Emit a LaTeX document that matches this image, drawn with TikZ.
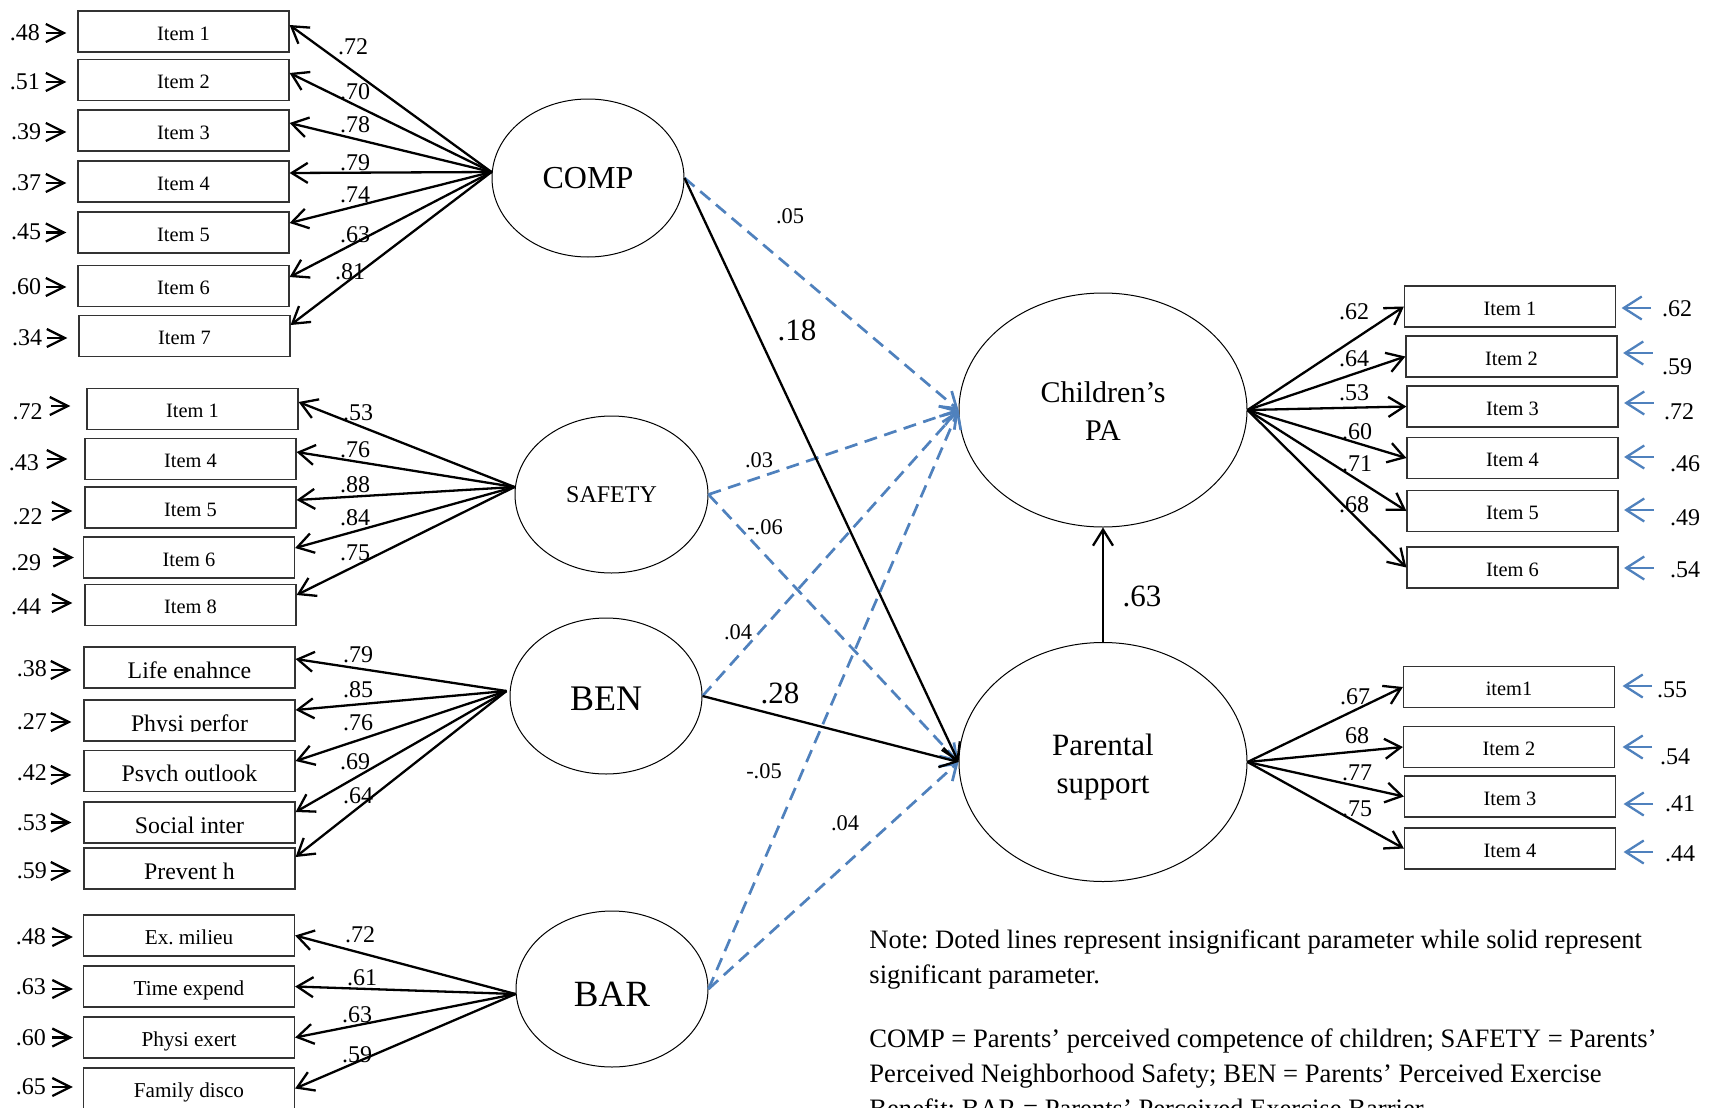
\documentclass[tikz,border=0pt]{standalone}
\usepackage{fontspec}
\setmainfont{Liberation Serif}
\usetikzlibrary{arrows.meta,calc,shapes.geometric}
\definecolor{nsblue}{RGB}{79,129,189}
\newcommand{\fsz}[1]{\fontsize{#1}{#1}\selectfont}
\frenchspacing

\begin{document}
\begin{tikzpicture}[x=0.5pt,y=-0.5pt,
  box/.style={draw=black!80, line width=0.6pt, minimum width=105.5pt, minimum height=20.5pt,
    inner sep=0pt, text height=9.5pt, text depth=1pt, font=\fsz{10.2}},
  barbox/.style={box, font=\fsz{10.6}},
  % text cut off at its baseline, as in the Benefit boxes
  bentext/.style={box, path picture={
      \clip (path picture bounding box.north west) rectangle ([yshift=-5.25pt]path picture bounding box.east);
      \node[anchor=base, inner sep=0pt, font=\fsz{11.9}] at ([yshift=-5.25pt]path picture bounding box.center) {#1};}},
  latent/.style={draw, ellipse, line width=0.5pt, inner sep=0pt},
  num/.style={inner sep=0pt, font=\fsz{12}},
  pathnum/.style={inner sep=0pt, font=\fsz{11.2}},
  bignum/.style={inner sep=0pt, font=\fsz{15.5}},
  load/.style={line width=1.15pt, -{Straight Barb[length=8pt,width=10pt]}},
  sig/.style={line width=1.15pt, -{Straight Barb[length=8pt,width=10pt]}},
  ns/.style={nsblue, line width=1.35pt, dash pattern=on 6.5pt off 3.8pt, -{Straight Barb[length=7.5pt,width=10pt]}},
  errL/.style={line width=1.15pt, -{Straight Barb[length=9pt,width=9pt]}},
  errR/.style={nsblue, line width=1.15pt, -{Straight Barb[length=9pt,width=11.5pt]}},
  note/.style={anchor=base west, inner sep=0pt, font=\fsz{13.3}},
]
\useasboundingbox (0,0) rectangle (1713,1108);
\fill[white] (0,0) rectangle (1713,1108);
\begin{scope}
\clip (0,0) rectangle (1713,1108);

% ---------- indicator boxes, left ----------
\node[box] (c1) at (183.5,31.5) {Item 1};
\node[box] (c2) at (183.5,80) {Item 2};
\node[box] (c3) at (183.5,130.5) {Item 3};
\node[box] (c4) at (183.5,181.5) {Item 4};
\node[box] (c5) at (183.5,232.5) {Item 5};
\node[box] (c6) at (183.5,286) {Item 6};
\node[box] (c7) at (184.5,336) {Item 7};

\node[box] (s1) at (192.5,409) {Item 1};
\node[box] (s4) at (190.5,459) {Item 4};
\node[box] (s5) at (190.5,507.5) {Item 5};
\node[box] (s6) at (189,557.5) {Item 6};
\node[box] (s8) at (190.5,605) {Item 8};

\node[bentext={Life enahnce}] (b1) at (189.5,667.5) {};
\node[bentext={Physi perfor}] (b2) at (189.5,720.5) {};
\node[bentext={Psych outlook}] (b3) at (189.5,771) {};
\node[bentext={Social inter}] (b4) at (189.5,822.5) {};
\node[bentext={Prevent h}] (b5) at (189.5,868.5) {};

\node[barbox] (r1) at (189,935.5) {Ex. milieu};
\node[barbox] (r2) at (189,986.5) {Time expend};
\node[barbox] (r3) at (189,1037.5) {Physi exert};
\node[barbox] (r4) at (189,1088.5) {Family disco};

% ---------- latent variables ----------
\node[latent, minimum width=96pt, minimum height=79pt, font=\fsz{16}] (comp) at (588,178) {COMP};
\node[latent, minimum width=96.5pt, minimum height=78.5pt, font=\fsz{12}] (safety) at (611.5,494.5) {SAFETY};
\node[latent, minimum width=96pt, minimum height=78pt, font=\fsz{18},
      text height=14.9pt, text depth=0pt] (ben) at (606,696) {BEN};
\node[latent, minimum width=96pt, minimum height=78pt, font=\fsz{18.5},
      text height=17.7pt, text depth=0pt] (bar) at (612,989) {BAR};
\node[latent, minimum width=144pt, minimum height=117pt] (pa) at (1103,410) {};
\node[align=center, inner sep=0pt, font=\fontsize{15}{19}\selectfont] (patext) at (1103,411) {Children’s\\PA};
\node[latent, minimum width=144pt, minimum height=119.5pt] (par) at (1103,762) {};
\node[align=center, inner sep=0pt, font=\fontsize{15.5}{19}\selectfont] (partext) at (1103,767.5) {Parental\\support};

% ---------- indicator boxes, right ----------
\node[box] (p1) at (1510,306.5) {Item 1};
\node[box] (p2) at (1511.5,356.5) {Item 2};
\node[box] (p3) at (1512.5,406.5) {Item 3};
\node[box] (p4) at (1512.5,458) {Item 4};
\node[box] (p5) at (1512.5,511) {Item 5};
\node[box] (p6) at (1512.5,567.5) {Item 6};

\node[box] (q1) at (1509,687) {item1};
\node[box] (q2) at (1509,747) {Item 2};
\node[box] (q3) at (1510,796.5) {Item 3};
\node[box] (q4) at (1510,848.5) {Item 4};

% ---------- loadings, left ----------
\foreach \b/\d in {c1/3.25,c2/3.5,c3/3.75,c4/4.25,c5/4.75,c6/4.5,c7/5.5}
  \draw[load] ([yshift=3pt]comp.west) -- ([yshift=\d pt]\b.east);
\foreach \b/\d in {s1/3.5,s4/3.5,s5/3.75,s6/4.75,s8/5}
  \draw[load] ([yshift=3.75pt]safety.west) -- ([yshift=\d pt]\b.east);
\foreach \b/\d in {b1/4.25,b2/5.25,b3/5,b4/5.25,b5/5.75}
  \draw[load] ([xshift=-1.5pt,yshift=2.5pt]ben.west) -- ([yshift=\d pt]\b.east);
\foreach \b in {r1,r2,r3,r4}
  \draw[load] ([yshift=-2.5pt]bar.west) -- (\b.east);

\node[num] (lc1) at (353,47) {.72};
\node[num] (lc2) at (355,92) {.70};
\node[num] (lc3) at (355,125) {.78};
\node[num] (lc4) at (355,163) {.79};
\node[num] (lc5) at (355,195) {.74};
\node[num] (lc6) at (355,235) {.63};
\node[num] (lc7) at (350,272) {.81};

\node[num] (ls1) at (358,413) {.53};
\node[num] (ls4) at (355,450) {.76};
\node[num] (ls5) at (355,485) {.88};
\node[num] (ls6) at (355,518) {.84};
\node[num] (ls8) at (355,553) {.75};

\node[num] (lb1) at (358,655) {.79};
\node[num] (lb2) at (358,690) {.85};
\node[num] (lb3) at (358,723) {.76};
\node[num] (lb4) at (355,762) {.69};
\node[num] (lb5) at (358,796) {.64};

\node[num] (lr1) at (360,935) {.72};
\node[num] (lr2) at (362,978) {.61};
\node[num] (lr3) at (357,1015) {.63};
\node[num] (lr4) at (357,1055) {.59};

% ---------- residuals, left ----------
\foreach \b/\dy in {c1/-0.75,c2/-1,c3/-0.75,c4/-0.75,c5/0,c6/-0.5,c7/-1}
  \draw[errL] ([xshift=-15.5pt,yshift=\dy pt]\b.west) -- ([xshift=-5.5pt,yshift=\dy pt]\b.west);
\draw[errL] ([xshift=-17.5pt,yshift=1.5pt]s1.west) -- ([xshift=-8pt,yshift=1.5pt]s1.west);
\draw[errL] ([xshift=-18.5pt]s4.west) -- ([xshift=-8.5pt]s4.west);
\draw[errL] ([xshift=-16pt,yshift=-1.75pt]s5.west) -- ([xshift=-6pt,yshift=-1.75pt]s5.west);
\draw[errL] ([xshift=-15pt]s6.west) -- ([xshift=-4.5pt]s6.west);
\draw[errL] ([xshift=-16pt,yshift=1pt]s8.west) -- ([xshift=-6pt,yshift=1pt]s8.west);
\foreach \b/\dy in {b1/-1.25,b2/-0.75,b3/-2,b4/0,b5/-1.25}
  \draw[errL] ([xshift=-16pt,yshift=\dy pt]\b.west) -- ([xshift=-6pt,yshift=\dy pt]\b.west);
\foreach \b/\dy in {r1/-0.75,r2/-1.25,r3/0,r4/0.75}
  \draw[errL] ([xshift=-15.5pt,yshift=\dy pt]\b.west) -- ([xshift=-5pt,yshift=\dy pt]\b.west);

\node[num] (ec1) at (25,33) {.48};
\node[num] (ec2) at (25,82) {.51};
\node[num] (ec3) at (26,132) {.39};
\node[num] (ec4) at (26,183) {.37};
\node[num] (ec5) at (26,232) {.45};
\node[num] (ec6) at (26,287) {.60};
\node[num] (ec7) at (27,338) {.34};

\node[num] (es1) at (27.5,412) {.72};
\node[num] (es4) at (24,463) {.43};
\node[num] (es5) at (27.5,517) {.22};
\node[num] (es6) at (26,563) {.29};
\node[num] (es8) at (26,607) {.44};

\node[num] (eb1) at (32,669) {.38};
\node[num] (eb2) at (32,722) {.27};
\node[num] (eb3) at (32,773) {.42};
\node[num] (eb4) at (32,823) {.53};
\node[num] (eb5) at (32,871) {.59};

\node[num] (er1) at (31,937) {.48};
\node[num] (er2) at (31,987) {.63};
\node[num] (er3) at (31,1038) {.60};
\node[num] (er4) at (31,1087) {.65};

% ---------- structural paths ----------
\draw[ns] (comp.east) -- (pa.west);
\draw[ns] (safety.east) -- (pa.west);
\draw[ns] (safety.east) -- (par.west);
\draw[ns] (ben.east) -- (pa.west);
\draw[ns] (bar.east) -- (pa.west);
\draw[ns] (bar.east) -- (par.west);
\draw[sig] (comp.east) -- (par.west);
\draw[sig] (ben.east) -- (par.west);
\draw[sig] (par.north) -- (pa.south);

\node[pathnum] (w1) at (790,216) {.05};
\node[bignum] (w2) at (797,330) {.18};
\node[pathnum] (w3) at (759,460) {.03};
\node[pathnum] (w4) at (765,527) {-.06};
\node[pathnum] (w5) at (738,632) {.04};
\node[bignum] (w6) at (780,693) {.28};
\node[pathnum] (w7) at (764,771) {-.05};
\node[pathnum] (w8) at (845,823) {.04};
\node[bignum] (w9) at (1142,596) {.63};

% ---------- loadings, right ----------
\foreach \b in {p1,p2,p3,p4,p5,p6}
  \draw[load] (pa.east) -- (\b.west);
\foreach \b in {q1,q2,q3,q4}
  \draw[load] (par.east) -- (\b.west);

\node[num] (lp1) at (1354,312) {.62};
\node[num] (lp2) at (1354,359) {.64};
\node[num] (lp3) at (1354,393) {.53};
\node[num] (lp4) at (1357,432) {.60};
\node[num] (lp5) at (1357,464) {.71};
\node[num] (lp6) at (1354,505) {.68};

\node[num] (lq1) at (1355,697) {.67};
\node[num] (lq2) at (1357,736) {68};
\node[num] (lq3) at (1357,773) {.77};
\node[num] (lq4) at (1357,809) {.75};

% ---------- residuals, right ----------
\foreach \b/\dy in {p1/-0.75,p2/1.75,p3/1.75,p4/0.5,p5/0.5,p6/-0.25}
  \draw[errR] ([xshift=17.5pt,yshift=\dy pt]\b.east) -- ([xshift=2.75pt,yshift=\dy pt]\b.east);
\foreach \b/\dy in {q1/0.5,q2/0,q3/-3.75,q4/-1.75}
  \draw[errR] ([xshift=18.5pt,yshift=\dy pt]\b.east) -- ([xshift=3.75pt,yshift=\dy pt]\b.east);

\node[num] (ep1) at (1677,309) {.62};
\node[num] (ep2) at (1677,367) {.59};
\node[num] (ep3) at (1679,412) {.72};
\node[num] (ep4) at (1685,464) {.46};
\node[num] (ep5) at (1685,518) {.49};
\node[num] (ep6) at (1685,570) {.54};

\node[num] (eq1) at (1672,690) {.55};
\node[num] (eq2) at (1675,757) {.54};
\node[num] (eq3) at (1680,804) {.41};
\node[num] (eq4) at (1680,854) {.44};

% ---------- note ----------
\node[note] (n1) at (869,948) {Note: Doted lines represent insignificant parameter while solid represent};
\node[note] (n2) at (869,983) {significant parameter.};
\node[note] (n3) at (869,1047) {COMP = Parents’ perceived competence of children; SAFETY = Parents’};
\node[note] (n4) at (869,1082) {Perceived Neighborhood Safety; BEN = Parents’ Perceived Exercise};
\node[note] (n5) at (869,1117) {Benefit; BAR = Parents’ Perceived Exercise Barrier};
\end{scope}
\end{tikzpicture}
\end{document}
